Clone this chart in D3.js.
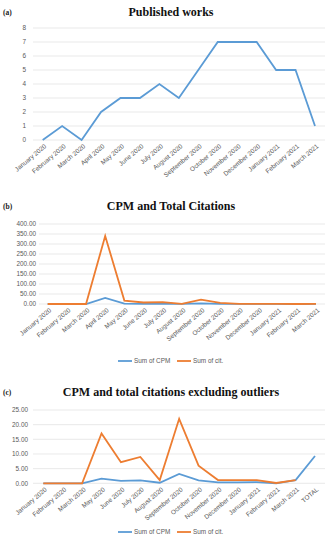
<!DOCTYPE html>
<html>
<head>
<meta charset="utf-8">
<script src="https://cdn.jsdelivr.net/npm/d3@7"></script>
<style>
body { margin: 0; background: #fff; }
svg { display: block; }
.tick-label { font-family: "Liberation Sans", Arial, sans-serif; font-size: 6.4px; fill: #595959; }
.title { font-family: "Liberation Serif", "DejaVu Serif", serif; font-weight: bold; fill: #111; }
.panel { font-family: "Liberation Serif", serif; font-weight: bold; font-size: 7.5px; fill: #222; }
</style>
</head>
<body>
<svg id="chart" width="329" height="550"></svg>
<script>
// data
var months = ['January 2020','February 2020','March 2020','April 2020','May 2020','June 2020','July 2020',
	'August 2020','September 2020','October 2020','November 2020','December 2020','January 2021',
	'February 2021','March 2021'];
var published = [0, 1, 0, 2, 3, 3, 4, 3, 5, 7, 7, 7, 5, 5, 1];

var cpm_b = [0, 0, 0, 30, 1.7, 0.8, 1.0, 0.2, 3.2, 1.0, 0.3, 0.3, 0.4, 0, 1.1];
var cit_b = [0, 0, 0, 340, 17, 7.5, 9, 1.1, 22, 6, 1.1, 1.1, 1.1, 0.1, 1.1];

var months_c = ['January 2020','February 2020','March 2020','May 2020','June 2020','July 2020',
	'August 2020','September 2020','October 2020','November 2020','December 2020','January 2021',
	'February 2021','March 2021','TOTAL'];
var cpm_c = [0, 0, 0, 1.6, 0.8, 1.0, 0.2, 3.2, 1.0, 0.3, 0.3, 0.4, 0, 1.1, 9.3];
var cit_c = [0, 0, 0, 17, 7.2, 9, 1.1, 22, 6, 1.1, 1.1, 1.1, 0.1, 1.1];

var BLUE = '#5b9bd5';
var ORANGE = '#ed7d31';
var GRID = '#e3e3e3';

var svg = d3.select('#chart');

function draw_chart(cfg)
{
	var g = svg.append('g');

	var x = d3.scalePoint()
		.domain(cfg.categories)
		.range(cfg.xrange)
		.padding(0);

	var y = d3.scaleLinear()
		.domain(cfg.ydomain)
		.range(cfg.yrange);

	var ticks = d3.range(cfg.ydomain[0], cfg.ydomain[1] + cfg.step / 2, cfg.step);

	// gridlines
	g.selectAll('.grid')
		.data(ticks)
		.enter().append('line')
		.attr('x1', cfg.grid[0])
		.attr('x2', cfg.grid[1])
		.attr('y1', function(d) { return y(d); })
		.attr('y2', function(d) { return y(d); })
		.attr('stroke', GRID)
		.attr('stroke-width', 0.8);

	// y labels
	g.selectAll('.ylab')
		.data(ticks)
		.enter().append('text')
		.attr('class', 'tick-label')
		.attr('x', cfg.ylabx)
		.attr('y', function(d) { return y(d) + 2.2; })
		.attr('text-anchor', 'end')
		.text(cfg.fmt);

	// x labels
	g.selectAll('.xlab')
		.data(cfg.categories)
		.enter().append('text')
		.attr('class', 'tick-label')
		.attr('text-anchor', 'end')
		.attr('transform', function(d) {
			return 'translate(' + (x(d) + 4) + ',' + (cfg.yrange[0] + 7) + ') rotate(-40)';
		})
		.text(function(d) { return d; });

	cfg.series.forEach(function(s) {
		var line = d3.line()
			.x(function(d, i) { return x(cfg.categories[i]); })
			.y(function(d) { return y(d); });
		g.append('path')
			.datum(s.values)
			.attr('d', line)
			.attr('fill', 'none')
			.attr('stroke', s.color)
			.attr('stroke-width', 1.8)
			.attr('stroke-linejoin', 'miter');
	});

	svg.append('text')
		.attr('class', 'title')
		.attr('x', 171)
		.attr('y', cfg.titley)
		.attr('text-anchor', 'middle')
		.style('font-size', cfg.titlesize + 'px')
		.text(cfg.title);

	svg.append('text')
		.attr('class', 'panel')
		.attr('x', 3)
		.attr('y', cfg.titley - 1)
		.text(cfg.panel);

	if(cfg.legendy)
	{
		var items = [{ name: 'Sum of CPM', color: BLUE, x: 118 }, { name: 'Sum of cit.', color: ORANGE, x: 177 }];
		items.forEach(function(it) {
			svg.append('line')
				.attr('x1', it.x).attr('x2', it.x + 14)
				.attr('y1', cfg.legendy).attr('y2', cfg.legendy)
				.attr('stroke', it.color).attr('stroke-width', 1.8);
			svg.append('text')
				.attr('class', 'tick-label')
				.attr('x', it.x + 16)
				.attr('y', cfg.legendy + 2.2)
				.text(it.name);
		});
	}
}

draw_chart({
	panel: '(a)', title: 'Published works', titley: 16, titlesize: 12,
	categories: months, xrange: [42.7, 315], ydomain: [0, 8], yrange: [140, 28], step: 1,
	grid: [33, 325], ylabx: 26, fmt: d3.format('d'),
	series: [{ values: published, color: BLUE }]
});

draw_chart({
	panel: '(b)', title: 'CPM and Total Citations', titley: 210, titlesize: 12,
	categories: months, xrange: [47.7, 316], ydomain: [0, 400], yrange: [304, 224], step: 50,
	grid: [39, 325], ylabx: 36, fmt: d3.format('.2f'),
	series: [{ values: cpm_b, color: BLUE }, { values: cit_b, color: ORANGE }],
	legendy: 361
});

draw_chart({
	panel: '(c)', title: 'CPM and total citations excluding outliers', titley: 396, titlesize: 12,
	categories: months_c, xrange: [43.3, 315], ydomain: [0, 25], yrange: [483.3, 410], step: 5,
	grid: [33, 325], ylabx: 28, fmt: d3.format('.2f'),
	series: [{ values: cpm_c, color: BLUE }, { values: cit_c, color: ORANGE }],
	legendy: 532
});
</script>
</body>
</html>
